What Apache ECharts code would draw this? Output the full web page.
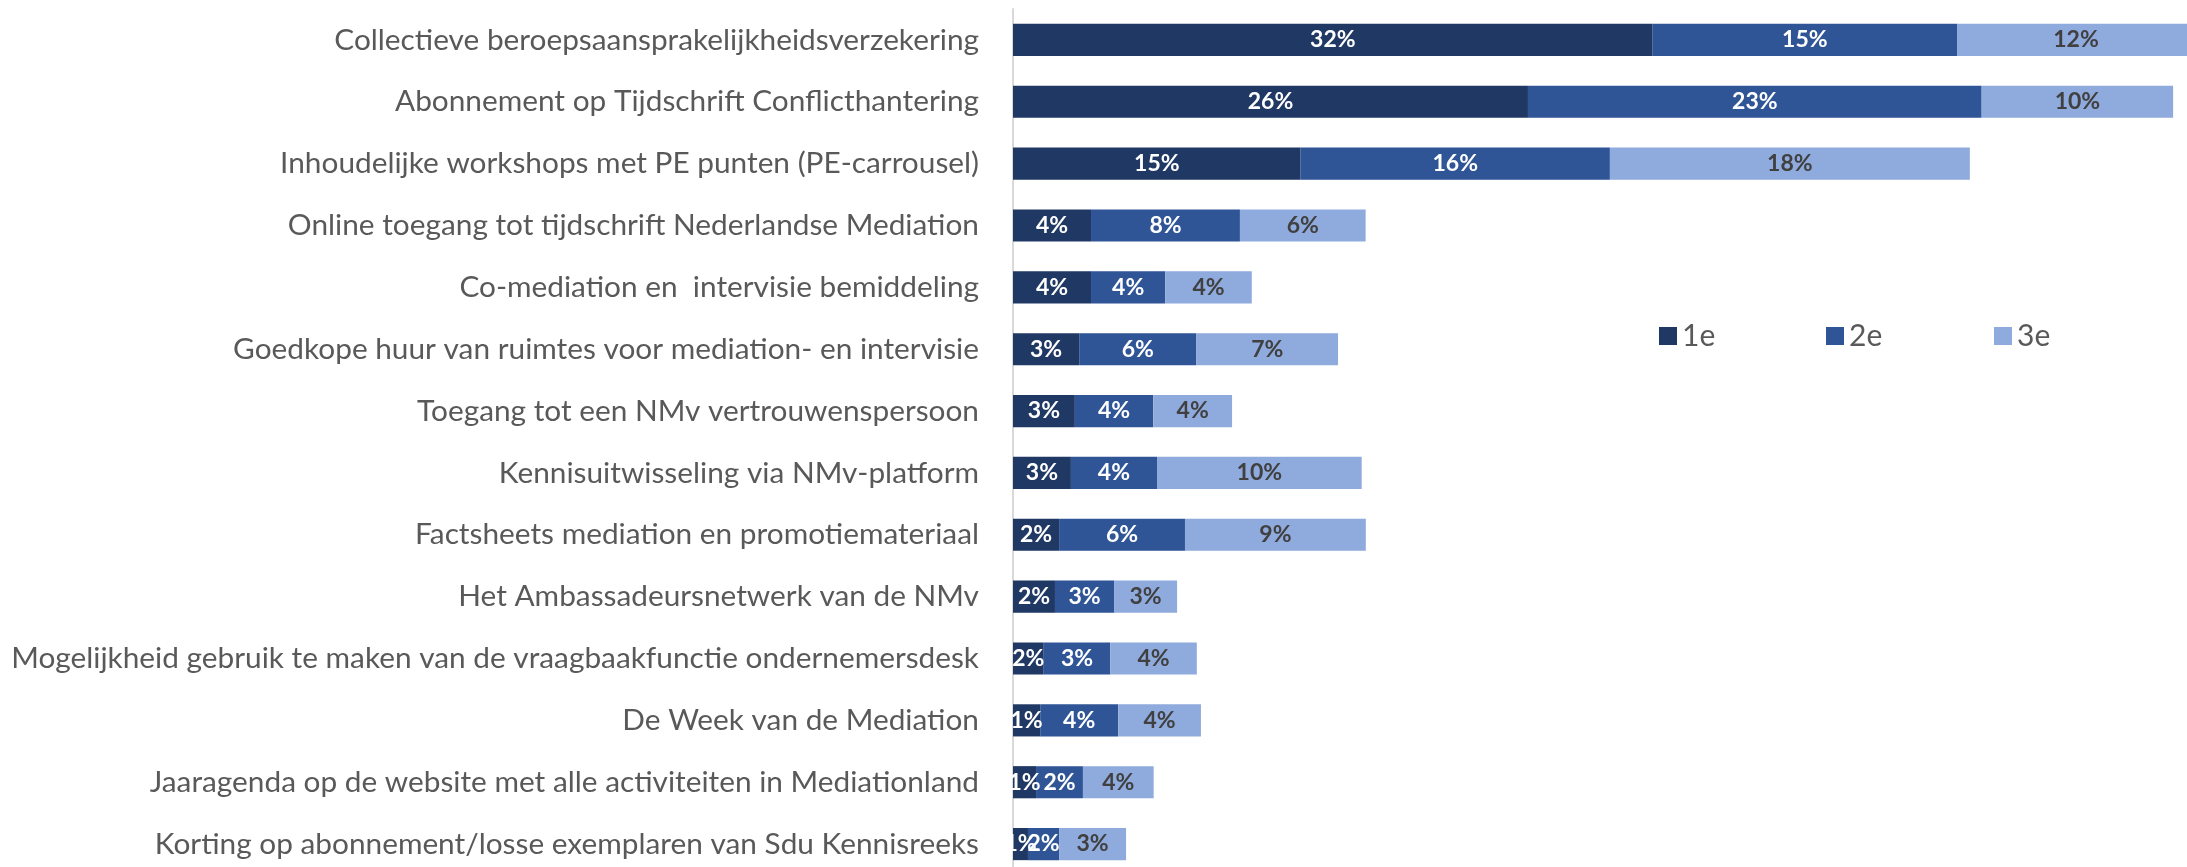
<!DOCTYPE html>
<html>
<head>
<meta charset="utf-8">
<script src="https://cdn.jsdelivr.net/npm/echarts@6/dist/echarts.min.js"></script>
<style>
  html, body { margin: 0; padding: 0; background: #fff; }
  #chart { width: 2187px; height: 867px; }
</style>
</head>
<body>
<div id="chart"></div>
<script>
// categorieen (van boven naar beneden)
var categories = [
  'Collectieve beroepsaansprakelijkheidsverzekering',
  'Abonnement op Tijdschrift Conflicthantering',
  'Inhoudelijke workshops met PE punten (PE-carrousel)',
  'Online toegang tot tijdschrift Nederlandse Mediation',
  'Co-mediation en  intervisie bemiddeling',
  'Goedkope huur van ruimtes voor mediation- en intervisie',
  'Toegang tot een NMv vertrouwenspersoon',
  'Kennisuitwisseling via NMv-platform',
  'Factsheets mediation en promotiemateriaal',
  'Het Ambassadeursnetwerk van de NMv',
  'Mogelijkheid gebruik te maken van de vraagbaakfunctie ondernemersdesk',
  'De Week van de Mediation',
  'Jaaragenda op de website met alle activiteiten in Mediationland',
  'Korting op abonnement/losse exemplaren van Sdu Kennisreeks'
];
var seriesNames = ['1e', '2e', '3e'];
// percentages per keuze
var first  = [32.47, 26.14, 14.6, 3.96, 3.96, 3.36, 3.14, 2.94, 2.34, 2.13, 1.56, 1.38, 1.17, 0.76];
var second = [15.45, 23.03, 15.7, 7.56, 3.77, 5.95, 3.98, 4.37, 6.39, 3.0, 3.38, 3.96, 2.38, 1.58];
var third  = [12.2, 9.72, 18.27, 6.38, 4.39, 7.19, 4.0, 10.39, 9.18, 3.2, 4.39, 4.2, 3.59, 3.4];

var colors = ['#203864', '#2F5597', '#8FAADC'];
var labelColors = ['#ffffff', '#ffffff', '#404040'];
var font = 'Lato';

var myChart = echarts.init(document.getElementById('chart'));

function barSeries(i, data) {
  return {
    name: seriesNames[i],
    type: 'bar',
    stack: 'totaal',
    barCategoryGap: '48%',
    data: data,
    itemStyle: { color: colors[i] },
    label: {
      show: true,
      position: 'inside',
      color: labelColors[i],
      fontFamily: font,
      fontWeight: 'bold',
      fontSize: 23,
      formatter: function (p) { return Math.round(p.value) + '%'; }
    }
  };
}

var legendLeft = [1659, 1826, 1994];

var option = {
  animation: false,
  color: colors,
  legend: seriesNames.map(function (n, i) {
    return {
      data: [n],
      left: legendLeft[i],
      top: 321,
      padding: 0,
      itemWidth: 18,
      itemHeight: 18,
      icon: 'rect',
      textStyle: { fontFamily: font, fontSize: 30, color: '#595959' }
    };
  }),
  // plotgebied loopt iets door voorbij de rand van het beeld
  grid: { left: 1013, top: 9, width: 1182, height: 866, containLabel: false, outerBoundsMode: 'none' },
  xAxis: {
    type: 'value',
    min: 0,
    max: 60,
    show: false
  },
  yAxis: {
    type: 'category',
    inverse: true,
    data: categories,
    axisLine: { show: true, lineStyle: { color: '#d9d9d9', width: 2 } },
    axisTick: { show: false },
    axisLabel: { margin: 34, fontFamily: font, fontSize: 29.8, color: '#595959' }
  },
  series: [barSeries(0, first), barSeries(1, second), barSeries(2, third)]
};

myChart.setOption(option);
</script>
</body>
</html>
